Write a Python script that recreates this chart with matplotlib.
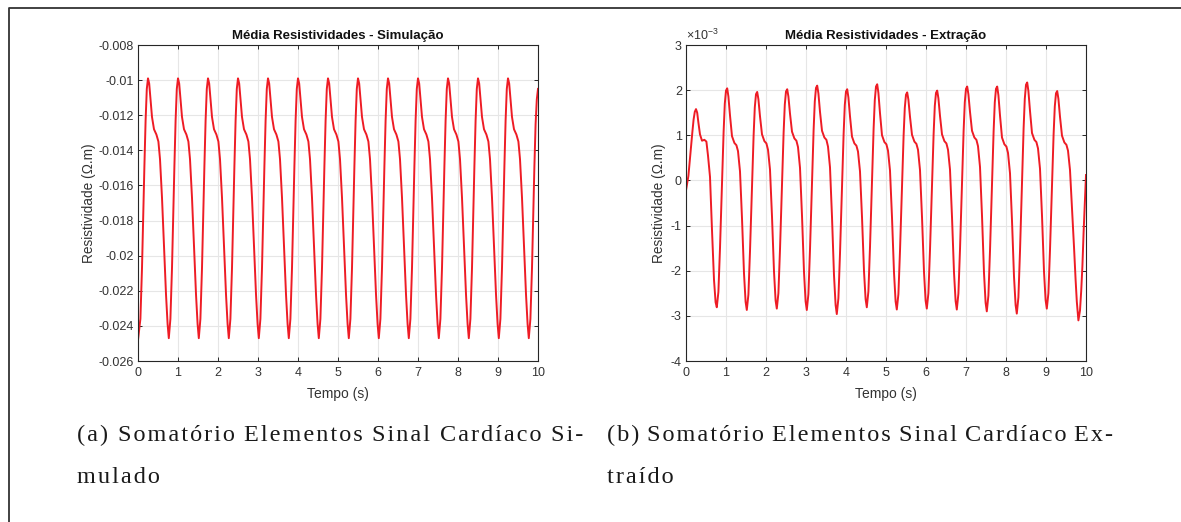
import matplotlib
matplotlib.use("Agg")
import matplotlib.pyplot as plt
from matplotlib.lines import Line2D
from matplotlib.ticker import FuncFormatter, MultipleLocator

# instantes de amostragem (s), uma linha por batimento
tempo = [
    0.00, 0.06, 0.10, 0.13, 0.16, 0.19, 0.22, 0.25, 0.28, 0.31, 0.35, 0.40, 0.46, 0.51, 0.55, 0.60, 0.65, 0.70, 0.74,
    0.77, 0.81, 0.85, 0.88, 0.91, 0.94, 0.97, 1.00, 1.03, 1.06, 1.10, 1.15, 1.21, 1.26, 1.30, 1.35, 1.40, 1.45, 1.49,
    1.52, 1.56, 1.60, 1.63, 1.66, 1.69, 1.72, 1.75, 1.78, 1.81, 1.85, 1.90, 1.96, 2.01, 2.05, 2.10, 2.15, 2.20, 2.24,
    2.27, 2.31, 2.35, 2.38, 2.41, 2.44, 2.47, 2.50, 2.53, 2.56, 2.60, 2.65, 2.71, 2.76, 2.80, 2.85, 2.90, 2.95, 2.99,
    3.02, 3.06, 3.10, 3.13, 3.16, 3.19, 3.22, 3.25, 3.28, 3.31, 3.35, 3.40, 3.46, 3.51, 3.55, 3.60, 3.65, 3.70, 3.74,
    3.77, 3.81, 3.85, 3.88, 3.91, 3.94, 3.97, 4.00, 4.03, 4.06, 4.10, 4.15, 4.21, 4.26, 4.30, 4.35, 4.40, 4.45, 4.49,
    4.52, 4.56, 4.60, 4.63, 4.66, 4.69, 4.72, 4.75, 4.78, 4.81, 4.85, 4.90, 4.96, 5.01, 5.05, 5.10, 5.15, 5.20, 5.24,
    5.27, 5.31, 5.35, 5.38, 5.41, 5.44, 5.47, 5.50, 5.53, 5.56, 5.60, 5.65, 5.71, 5.76, 5.80, 5.85, 5.90, 5.95, 5.99,
    6.02, 6.06, 6.10, 6.13, 6.16, 6.19, 6.22, 6.25, 6.28, 6.31, 6.35, 6.40, 6.46, 6.51, 6.55, 6.60, 6.65, 6.70, 6.74,
    6.77, 6.81, 6.85, 6.88, 6.91, 6.94, 6.97, 7.00, 7.03, 7.06, 7.10, 7.15, 7.21, 7.26, 7.30, 7.35, 7.40, 7.45, 7.49,
    7.52, 7.56, 7.60, 7.63, 7.66, 7.69, 7.72, 7.75, 7.78, 7.81, 7.85, 7.90, 7.96, 8.01, 8.05, 8.10, 8.15, 8.20, 8.24,
    8.27, 8.31, 8.35, 8.38, 8.41, 8.44, 8.47, 8.50, 8.53, 8.56, 8.60, 8.65, 8.71, 8.76, 8.80, 8.85, 8.90, 8.95, 8.99,
    9.02, 9.06, 9.10, 9.13, 9.16, 9.19, 9.22, 9.25, 9.28, 9.31, 9.35, 9.40, 9.46, 9.51, 9.55, 9.60, 9.65, 9.70, 9.74,
    9.77, 9.81, 9.85, 9.88, 9.91, 9.94, 9.97, 10.00,
]

# media das resistividades simuladas (ohm.m)
media_simulacao = [
    -0.0248, -0.0236, -0.0207, -0.0178, -0.0149, -0.0123, -0.0105, -0.0099, -0.0102, -0.0110, -0.0121, -0.0128, -0.0131, -0.0135, -0.0145, -0.0167, -0.0195, -0.0222, -0.0239,
    -0.0247, -0.0236, -0.0207, -0.0178, -0.0149, -0.0123, -0.0105, -0.0099, -0.0102, -0.0110, -0.0121, -0.0128, -0.0131, -0.0135, -0.0145, -0.0167, -0.0195, -0.0222, -0.0239,
    -0.0247, -0.0236, -0.0207, -0.0178, -0.0149, -0.0123, -0.0105, -0.0099, -0.0102, -0.0110, -0.0121, -0.0128, -0.0131, -0.0135, -0.0145, -0.0167, -0.0195, -0.0222, -0.0239,
    -0.0247, -0.0236, -0.0207, -0.0178, -0.0149, -0.0123, -0.0105, -0.0099, -0.0102, -0.0110, -0.0121, -0.0128, -0.0131, -0.0135, -0.0145, -0.0167, -0.0195, -0.0222, -0.0239,
    -0.0247, -0.0236, -0.0207, -0.0178, -0.0149, -0.0123, -0.0105, -0.0099, -0.0102, -0.0110, -0.0121, -0.0128, -0.0131, -0.0135, -0.0145, -0.0167, -0.0195, -0.0222, -0.0239,
    -0.0247, -0.0236, -0.0207, -0.0178, -0.0149, -0.0123, -0.0105, -0.0099, -0.0102, -0.0110, -0.0121, -0.0128, -0.0131, -0.0135, -0.0145, -0.0167, -0.0195, -0.0222, -0.0239,
    -0.0247, -0.0236, -0.0207, -0.0178, -0.0149, -0.0123, -0.0105, -0.0099, -0.0102, -0.0110, -0.0121, -0.0128, -0.0131, -0.0135, -0.0145, -0.0167, -0.0195, -0.0222, -0.0239,
    -0.0247, -0.0236, -0.0207, -0.0178, -0.0149, -0.0123, -0.0105, -0.0099, -0.0102, -0.0110, -0.0121, -0.0128, -0.0131, -0.0135, -0.0145, -0.0167, -0.0195, -0.0222, -0.0239,
    -0.0247, -0.0236, -0.0207, -0.0178, -0.0149, -0.0123, -0.0105, -0.0099, -0.0102, -0.0110, -0.0121, -0.0128, -0.0131, -0.0135, -0.0145, -0.0167, -0.0195, -0.0222, -0.0239,
    -0.0247, -0.0236, -0.0207, -0.0178, -0.0149, -0.0123, -0.0105, -0.0099, -0.0102, -0.0110, -0.0121, -0.0128, -0.0131, -0.0135, -0.0145, -0.0167, -0.0195, -0.0222, -0.0239,
    -0.0247, -0.0236, -0.0207, -0.0178, -0.0149, -0.0123, -0.0105, -0.0099, -0.0102, -0.0110, -0.0121, -0.0128, -0.0131, -0.0135, -0.0145, -0.0167, -0.0195, -0.0222, -0.0239,
    -0.0247, -0.0236, -0.0207, -0.0178, -0.0149, -0.0123, -0.0105, -0.0099, -0.0102, -0.0110, -0.0121, -0.0128, -0.0131, -0.0135, -0.0145, -0.0167, -0.0195, -0.0222, -0.0239,
    -0.0247, -0.0236, -0.0207, -0.0178, -0.0149, -0.0123, -0.0105, -0.0099, -0.0102, -0.0110, -0.0121, -0.0128, -0.0131, -0.0135, -0.0145, -0.0167, -0.0195, -0.0222, -0.0239,
    -0.0247, -0.0236, -0.0207, -0.0178, -0.0149, -0.0125, -0.0111, -0.0105,
]

# media das resistividades extraidas, em unidades de 1e-3 ohm.m
media_extracao = [
    -0.22, 0.10, 0.50, 0.80, 1.08, 1.35, 1.52, 1.58, 1.50, 1.28, 1.02, 0.88, 0.90, 0.86, 0.55, 0.08, -1.10, -2.20, -2.70,
    -2.81, -2.47, -1.50, -0.63, 0.25, 1.07, 1.70, 1.99, 2.04, 1.86, 1.44, 0.98, 0.83, 0.78, 0.65, 0.20, -0.84, -2.06, -2.69,
    -2.87, -2.53, -1.57, -0.70, 0.17, 0.99, 1.62, 1.91, 1.96, 1.80, 1.42, 1.02, 0.87, 0.82, 0.68, 0.24, -0.80, -2.02, -2.66,
    -2.84, -2.50, -1.53, -0.65, 0.22, 1.05, 1.68, 1.97, 2.02, 1.86, 1.48, 1.08, 0.93, 0.88, 0.74, 0.28, -0.78, -2.03, -2.68,
    -2.87, -2.52, -1.53, -0.63, 0.26, 1.11, 1.75, 2.05, 2.10, 1.93, 1.52, 1.10, 0.95, 0.90, 0.75, 0.29, -0.81, -2.10, -2.76,
    -2.96, -2.61, -1.62, -0.72, 0.18, 1.02, 1.67, 1.97, 2.02, 1.84, 1.42, 0.97, 0.82, 0.77, 0.64, 0.20, -0.81, -2.01, -2.63,
    -2.81, -2.46, -1.48, -0.59, 0.30, 1.14, 1.78, 2.08, 2.13, 1.94, 1.49, 1.00, 0.85, 0.80, 0.66, 0.22, -0.82, -2.04, -2.68,
    -2.86, -2.52, -1.56, -0.70, 0.17, 0.99, 1.61, 1.90, 1.95, 1.79, 1.41, 1.01, 0.86, 0.81, 0.68, 0.23, -0.81, -2.03, -2.66,
    -2.84, -2.50, -1.54, -0.67, 0.20, 1.02, 1.65, 1.94, 1.99, 1.82, 1.43, 1.02, 0.87, 0.82, 0.68, 0.24, -0.81, -2.04, -2.67,
    -2.86, -2.51, -1.53, -0.64, 0.25, 1.09, 1.73, 2.03, 2.08, 1.91, 1.52, 1.10, 0.95, 0.90, 0.76, 0.30, -0.78, -2.05, -2.71,
    -2.90, -2.55, -1.56, -0.66, 0.24, 1.08, 1.73, 2.03, 2.08, 1.89, 1.44, 0.95, 0.80, 0.75, 0.61, 0.16, -0.89, -2.13, -2.76,
    -2.95, -2.59, -1.57, -0.65, 0.28, 1.15, 1.81, 2.12, 2.17, 1.98, 1.54, 1.05, 0.90, 0.85, 0.71, 0.26, -0.78, -2.02, -2.65,
    -2.84, -2.50, -1.54, -0.67, 0.20, 1.02, 1.64, 1.93, 1.98, 1.81, 1.41, 0.99, 0.84, 0.79, 0.66, 0.23, -0.60, -1.47, -2.20,
    -2.68, -3.10, -2.88, -2.45, -1.90, -1.15, -0.50, 0.12,
]

legenda_a = ["(a) Somatório Elementos Sinal Cardíaco Si-", "mulado"]
legenda_b = ["(b) Somatório Elementos Sinal Cardíaco Ex-", "traído"]

plt.rcParams["font.family"] = ["Liberation Sans", "DejaVu Sans"]
plt.rcParams["axes.unicode_minus"] = False
plt.rcParams["mathtext.fontset"] = "custom"
plt.rcParams["mathtext.rm"] = "Liberation Sans"
plt.rcParams["mathtext.it"] = "Liberation Sans:italic"

CINZA = "#262626"
VERMELHO = "#ee1c25"
W, H = 1181, 522
HAIR = "\u200a"  # espaco fino entre letras, alarga a fonte serifada


def caixa(x0, y0, x1, y1):
    # converte pixels (origem no topo) em fracao da figura
    return [x0 / W, 1 - y1 / H, (x1 - x0) / W, (y1 - y0) / H]


def estilo_matlab(ax, titulo):
    ax.set_xlim(0, 10)
    ax.xaxis.set_major_locator(MultipleLocator(1))
    ax.grid(True, color="#e6e6e6", linewidth=0.8)
    ax.set_axisbelow(True)
    for sp in ax.spines.values():
        sp.set_color(CINZA)
        sp.set_linewidth(0.8)
    ax.tick_params(direction="in", length=3, width=0.7, colors=CINZA,
                   labelsize=9, labelcolor="#333333", top=True, right=True)
    ax.tick_params(axis="x", pad=4.5)
    ax.tick_params(axis="y", pad=3)
    ax.set_title(titulo, fontsize=9.5, fontweight="bold", color="#111111", pad=4)
    ax.set_xlabel("Tempo (s)", fontsize=10, color="#333333")
    ax.set_ylabel("Resistividade (Ω.m)", fontsize=9.8, color="#333333")
    ax.xaxis.set_label_coords(0.5, -0.082)


def espacado(palavra):
    return HAIR.join(palavra)


def linha_justificada(fig, texto, x0, x1, y, **kw):
    # espalha as palavras entre x0 e x1 (pixels), como num paragrafo justificado
    ren = fig.canvas.get_renderer()
    palavras = texto.split(" ")
    artistas = [fig.text(0, 1 - y / H, espacado(p), va="baseline", **kw)
                for p in palavras]
    larguras = [a.get_window_extent(ren).width for a in artistas]
    folga = (x1 - x0 - sum(larguras)) / (len(palavras) - 1)
    x = x0
    for a, w in zip(artistas, larguras):
        a.set_x(x / W)
        x += w + folga


fig = plt.figure(figsize=(W / 100, H / 100), dpi=100)

ax1 = fig.add_axes(caixa(138, 45, 538, 361))
ax1.plot(tempo, media_simulacao, color=VERMELHO, linewidth=1.4)
estilo_matlab(ax1, "Média Resistividades - Simulação")
ax1.set_ylim(-0.026, -0.008)
ax1.yaxis.set_major_locator(MultipleLocator(0.002))
ax1.yaxis.set_major_formatter(FuncFormatter(lambda v, p: "%g" % round(v, 4)))
ax1.yaxis.set_label_coords(-0.105, 0.5)

ax2 = fig.add_axes(caixa(686, 45, 1086, 361))
ax2.plot(tempo, media_extracao, color=VERMELHO, linewidth=1.4)
estilo_matlab(ax2, "Média Resistividades - Extração")
ax2.set_ylim(-4, 3)
ax2.yaxis.set_major_locator(MultipleLocator(1))
ax2.yaxis.set_major_formatter(FuncFormatter(lambda v, p: "%g" % v))
ax2.yaxis.set_label_coords(-0.05, 0.5)
ax2.text(0.0, 1.006, r"$\times$10$^{-3}$", transform=ax2.transAxes,
         fontsize=9, color="#333333", ha="left", va="bottom")

# legendas das subfiguras
serif = ["Liberation Serif", "DejaVu Serif"]
estilo_leg = dict(fontsize=17.5, family=serif, color="#1a1a1a")
for x0, linhas in ((77, legenda_a), (607, legenda_b)):
    linha_justificada(fig, linhas[0], x0, x0 + 506, 441, **estilo_leg)
    fig.text(x0 / W, 1 - 483 / H, espacado(linhas[1]), va="baseline", **estilo_leg)

# moldura do documento (topo e lateral esquerda)
fig.add_artist(Line2D([9 / W, 9 / W, 1.0], [0.0, 1 - 8 / H, 1 - 8 / H],
                      color="#333333", linewidth=1.3))

fig.savefig("out.png", dpi=100)
